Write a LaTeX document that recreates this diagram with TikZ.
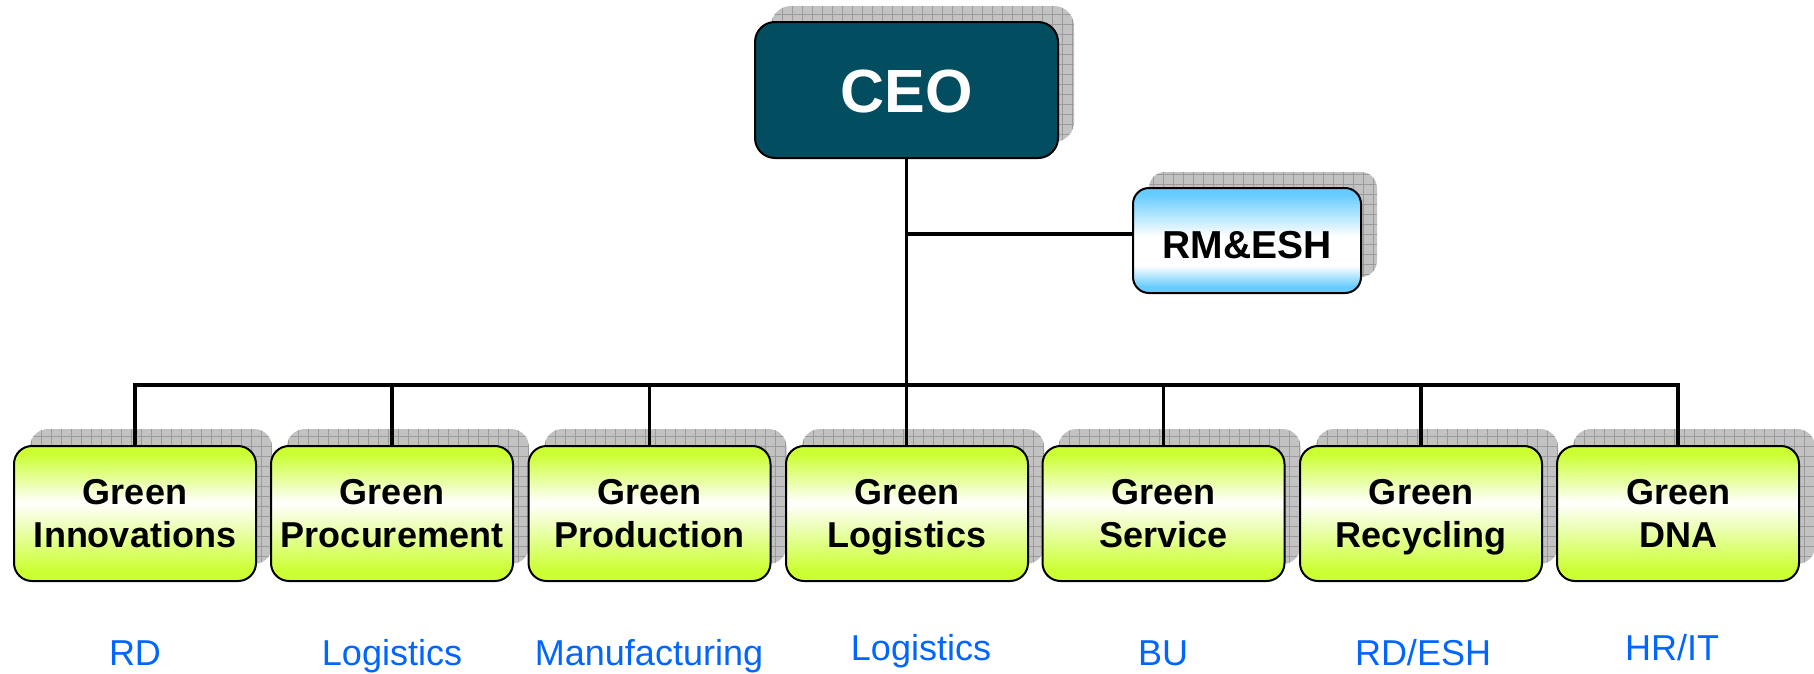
\documentclass[tikz,border=0pt]{standalone}
\usepackage{fontspec}
\setmainfont{Liberation Sans}
\definecolor{ceofill}{RGB}{2,78,96}
\definecolor{gtop}{RGB}{204,255,51}
\definecolor{btop}{RGB}{102,204,255}
\definecolor{shgray}{RGB}{194,194,194}
\definecolor{shgrid}{RGB}{155,155,155}
\definecolor{lblblue}{RGB}{0,102,255}
% visible part of a path shading is 25bp..75bp
\pgfdeclareverticalshading{greenshade}{100bp}{color(0bp)=(gtop); color(25bp)=(gtop); color(29bp)=(gtop); color(54bp)=(white); color(72bp)=(gtop); color(75bp)=(gtop); color(100bp)=(gtop)}
\pgfdeclareverticalshading{blueshade}{100bp}{color(0bp)=(btop); color(25bp)=(btop); color(28bp)=(btop); color(38bp)=(white); color(52bp)=(white); color(72bp)=(btop); color(75bp)=(btop); color(100bp)=(btop)}
\tikzset{
  box/.style={draw=black, line width=2pt, inner sep=0pt, align=center,
    font=\bfseries\fontsize{36}{43}\selectfont},
  gsize/.style={minimum width=242pt, minimum height=135pt, rounded corners=18pt, text depth=0pt,
    align=center, inner sep=0pt, font=\bfseries\fontsize{36}{43}\selectfont},
  greenbox/.style={box, gsize, shading=greenshade},
  ceosize/.style={minimum width=303pt, minimum height=136pt, rounded corners=20pt},
  ceobox/.style={box, ceosize, fill=ceofill, text=white,
    font=\bfseries\fontsize{61}{70}\selectfont, text height=44pt, text depth=0pt},
  rmsize/.style={minimum width=228pt, minimum height=105pt, rounded corners=16pt},
  rmbox/.style={box, rmsize, shading=blueshade,
    font=\bfseries\fontsize{39}{45}\selectfont, text height=35pt, text depth=0pt},
  shadowbox/.style={fill=shgray, inner sep=0pt,
    path picture={\draw[shgrid, line width=0.7pt, step=10pt]
      (path picture bounding box.south west) grid (path picture bounding box.north east);}},
  conn/.style={line width=3.2pt},
  lbl/.style={text=lblblue, font=\fontsize{36}{43}\selectfont, anchor=base, inner sep=0pt}
}
\begin{document}
\begin{tikzpicture}[x=1pt,y=-1pt]
\fill[white] (0,0) rectangle (1814,673);
\useasboundingbox (0,0) rectangle (1814,673);
% shadows
\node[shadowbox, ceosize] (sceo) at (922.5,74) {};
\node[shadowbox, rmsize] (srm) at (1263,224.5) {};
\foreach \x [count=\i] in {135,392,649.5,907,1163.5,1421,1678}{
  \node[shadowbox, gsize] (s\i) at (\x+16,496.5) {};
}
% boxes
\node[ceobox] (ceo) at (906.5,90) {CEO};
\node[rmbox] (rm) at (1247,240.5) {RM\&ESH};
\node[greenbox] (g1) at (135,513.5) {Green\\Innovations};
\node[greenbox] (g2) at (392,513.5) {Green\\Procurement};
\node[greenbox] (g3) at (649.5,513.5) {Green\\Production};
\node[greenbox] (g4) at (907,513.5) {Green\\Logistics};
\node[greenbox] (g5) at (1163.5,513.5) {Green\\Service};
\node[greenbox] (g6) at (1421,513.5) {Green\\Recycling};
\node[greenbox] (g7) at (1678,513.5) {Green\\DNA};
% connectors
\coordinate (bus) at (0,385);
\coordinate (rmy) at (0,234);
\draw[conn] (g1.north) -- (g1.north |- bus) -- (g7.north |- bus) -- (g7.north);
\foreach \i in {2,3,5,6}{\draw[conn] (g\i.north |- bus) -- (g\i.north);}
\draw[conn] (ceo.south) -- (ceo.south |- g4.north);
\draw[conn] (ceo.south |- rmy) -- (rm.west |- rmy);
% labels
\node[lbl] (l1) at (135,665) {RD};
\node[lbl] (l2) at (392,665) {Logistics};
\node[lbl] (l3) at (649,665) {Manufacturing};
\node[lbl] (l4) at (921,660) {Logistics};
\node[lbl] (l5) at (1163,665) {BU};
\node[lbl] (l6) at (1423,665) {RD/ESH};
\node[lbl] (l7) at (1672,660) {HR/IT};
\end{tikzpicture}
\end{document}
